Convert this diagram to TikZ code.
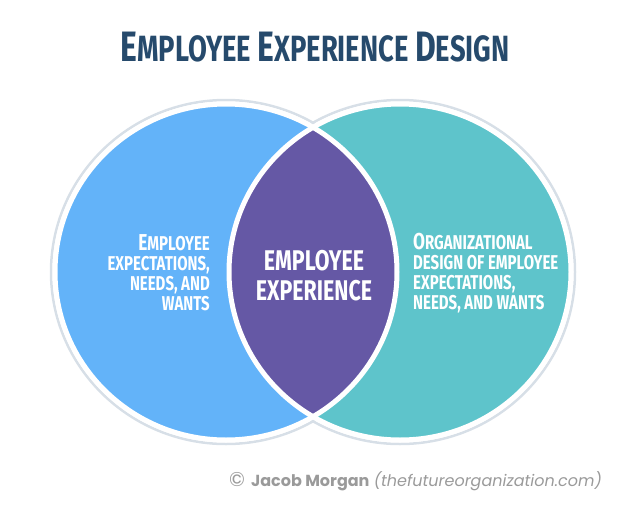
\documentclass[tikz,border=0pt]{standalone}
\usepackage{fontspec}
\newfontfamily\condfont[FakeStretch=0.75]{Fira Sans}
\newfontfamily\notefont{Poppins}
\definecolor{leftblue}{HTML}{63B3F9}
\definecolor{rightteal}{HTML}{5EC4CB}
\definecolor{lenspurple}{HTML}{6558A5}
\definecolor{titlenavy}{HTML}{264A6C}
\definecolor{ringgray}{HTML}{D7DFE7}
\definecolor{notegray}{HTML}{9A9A9A}
\newcommand\initcap[2]{{\fontsize{#1}{0}\selectfont #2}}

\begin{document}
\begin{tikzpicture}
[x=1pt, y=-1pt,
ring/.style ={draw=ringgray, line width=2.5},
gap/.style ={draw=white, line width=5},
heading/.style ={text=titlenavy, inner sep=0, font=\condfont\bfseries\fontsize{36.5}{40}\selectfont},
sidetext/.style ={text=white, inner sep=0, font=\condfont\bfseries\fontsize{20}{20}\selectfont},
midtext/.style ={text=white, inner sep=0, align=center, font=\condfont\bfseries\fontsize{28.5}{30}\selectfont},
note/.style ={text=notegray, inner sep=0, font=\notefont\fontsize{16}{20}\selectfont}]
\useasboundingbox (0, 0) rectangle (630, 509);
\coordinate (lc) at (226, 272);
\coordinate (rc) at (400, 272);
\draw[ring] (lc) ellipse (175 and 172);
\draw[ring] (rc) ellipse (175 and 172);
\fill[leftblue] (lc) ellipse (171 and 168);
\fill[rightteal] (rc) ellipse (171 and 168);
\begin{scope}
\clip (lc) ellipse (171 and 168);
\fill[lenspurple] (rc) ellipse (171 and 168);
\end{scope}
\draw[gap] (lc) ellipse (171 and 168);
\draw[gap] (rc) ellipse (171 and 168);
\draw (315, 61) node[heading, anchor=base] (title) {\initcap{42.5}{E}MPLOYEE \initcap{42.5}{E}XPERIENCE \initcap{42.5}{D}ESIGN};
\draw (210, 273) node[sidetext, anchor=east, align=right] (wants) {\initcap{23}{E}MPLOYEE\\EXPECTATIONS,\\NEEDS, AND\\WANTS};
\draw (314, 276) node[midtext] (exp) {EMPLOYEE\\EXPERIENCE};
\draw (413, 273) node[sidetext, anchor=west, align=left] (design) {\initcap{23}{O}RGANIZATIONAL\\DESIGN OF EMPLOYEE\\EXPECTATIONS,\\NEEDS, AND WANTS};
\draw (229, 486) node[note, anchor=base west] (credit) {\initcap{20}{©}\hspace{6pt}\textbf{Jacob Morgan} \textit{(thefutureorganization.com)}};
\end{tikzpicture}
\end{document}
